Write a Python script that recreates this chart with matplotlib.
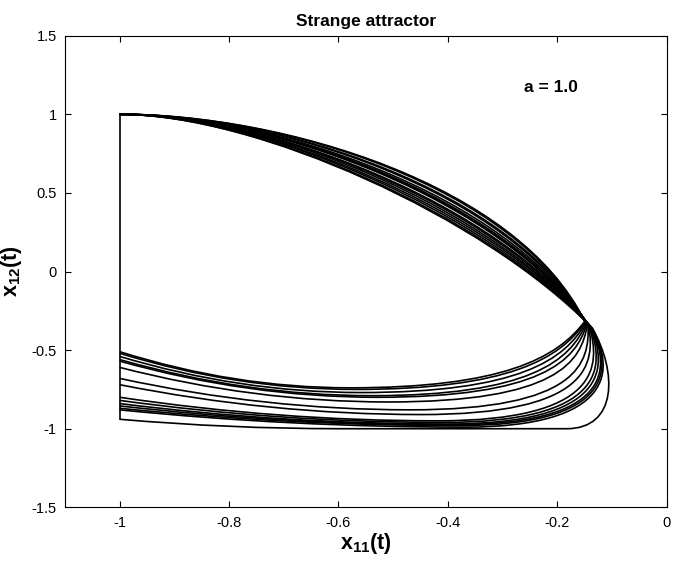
import matplotlib

matplotlib.use("Agg")
import matplotlib.pyplot as plt
from matplotlib.patches import PathPatch
from matplotlib.path import Path

plt.rcParams["font.family"] = ["Liberation Sans", "DejaVu Sans"]
plt.rcParams["axes.unicode_minus"] = False
plt.rcParams["mathtext.fontset"] = "custom"
plt.rcParams["mathtext.bf"] = "Liberation Sans:bold"
plt.rcParams["mathtext.rm"] = "Liberation Sans"

# where each loop re-enters the x11 = -1 wall
lower_left_y = [-0.51, -0.52, -0.54, -0.56, -0.57, -0.61, -0.68, -0.72,
                -0.80, -0.82, -0.84, -0.855, -0.87, -0.88, -0.94]
# lowest point of each lower branch
lower_min_x = [-0.58, -0.57, -0.56, -0.54, -0.53, -0.51, -0.47, -0.45,
               -0.42, -0.41, -0.40, -0.39, -0.38, -0.37, -0.60]
lower_min_y = [-0.74, -0.75, -0.77, -0.79, -0.80, -0.83, -0.88, -0.91,
               -0.95, -0.96, -0.97, -0.975, -0.98, -0.99, -1.0]
# end of the x12 = -1 saturation run (same as min x when not saturated)
flat_end_x = [-0.58, -0.57, -0.56, -0.54, -0.53, -0.51, -0.47, -0.45,
              -0.42, -0.41, -0.40, -0.39, -0.38, -0.37, -0.183]
# turn on the right: lower and upper control of the bend
turn_x = [-0.30, -0.29, -0.27, -0.25, -0.23, -0.20, -0.16, -0.14,
          -0.12, -0.112, -0.106, -0.10, -0.097, -0.094, -0.09]
turn_top_x = [-0.20, -0.195, -0.185, -0.175, -0.165, -0.155, -0.14, -0.13,
              -0.12, -0.112, -0.106, -0.10, -0.097, -0.094, -0.09]
turn_y = [-0.55, -0.555, -0.56, -0.565, -0.57, -0.575, -0.58, -0.59,
          -0.60, -0.61, -0.61, -0.62, -0.62, -0.62, -0.64]
# switching point where the upper branch starts
switch_x = [-0.150, -0.149, -0.148, -0.147, -0.146, -0.145, -0.144, -0.143,
            -0.142, -0.141, -0.140, -0.139, -0.138, -0.137, -0.136]
switch_y = [-0.318, -0.321, -0.324, -0.327, -0.330, -0.333, -0.336, -0.339,
            -0.342, -0.345, -0.348, -0.351, -0.354, -0.357, -0.360]
# bend of the upper branch
upper_bend_x = [-0.27, -0.275, -0.28, -0.285, -0.29, -0.295, -0.30, -0.30,
                -0.305, -0.31, -0.315, -0.32, -0.325, -0.33, -0.335]
upper_bend_y = [0.55, 0.54, 0.52, 0.51, 0.49, 0.47, 0.46, 0.45,
                0.43, 0.42, 0.40, 0.39, 0.37, 0.36, 0.35]
upper_top_x = [-0.70, -0.70, -0.71, -0.71, -0.72, -0.72, -0.72, -0.72,
               -0.73, -0.73, -0.73, -0.74, -0.74, -0.75, -0.75]

a_value = 1.0


def loop_path(i):
    y0 = lower_left_y[i]
    xb, yb = lower_min_x[i], lower_min_y[i]
    cx, cy = switch_x[i], switch_y[i]
    verts = [
        (-1.0, y0),
        ((-1.0 + xb) / 2, yb), (xb, yb),
        (flat_end_x[i], yb),
        (turn_x[i], yb), (turn_top_x[i], turn_y[i]), (cx, cy),
        (upper_bend_x[i], upper_bend_y[i]), (upper_top_x[i], 1.0), (-1.0, 1.0),
    ]
    codes = [
        Path.MOVETO,
        Path.CURVE3, Path.CURVE3,
        Path.LINETO,
        Path.CURVE4, Path.CURVE4, Path.CURVE4,
        Path.CURVE4, Path.CURVE4, Path.CURVE4,
    ]
    return Path(verts, codes)


fig = plt.figure(figsize=(6.81, 5.62), dpi=100)
ax = fig.add_axes([0.0954, 0.0973, 0.979 - 0.0954, 0.9365 - 0.0973])

for i in range(len(lower_left_y)):
    ax.add_patch(PathPatch(loop_path(i), fill=False, edgecolor="black", lw=1.2))
# jump back up along the x11 = -1 wall
ax.plot([-1.0, -1.0], [min(lower_left_y), 1.0], color="black", lw=1.2)

ax.set_xlim(-1.1, 0)
ax.set_ylim(-1.5, 1.5)
ax.set_xticks([-1, -0.8, -0.6, -0.4, -0.2, 0])
ax.set_xticklabels(["-1", "-0.8", "-0.6", "-0.4", "-0.2", "0"])
ax.set_yticks([-1.5, -1, -0.5, 0, 0.5, 1, 1.5])
ax.set_yticklabels(["-1.5", "-1", "-0.5", "0", "0.5", "1", "1.5"])
ax.tick_params(direction="in", length=4, width=0.8, top=True, right=True,
               labelsize=10.5, pad=6)
for spine in ax.spines.values():
    spine.set_linewidth(0.8)

ax.set_title("Strange attractor", fontsize=12.5, fontweight="bold", pad=7)
ax.set_xlabel(r"$\mathbf{x_{11}(t)}$", fontsize=15.5, labelpad=1)
ax.set_ylabel(r"$\mathbf{x_{12}(t)}$", fontsize=15.5, labelpad=5)
ax.text(-0.163, 1.17, f"a = {a_value:.1f}", ha="right", va="center",
        fontsize=12.5, fontweight="bold")

fig.savefig("out.png", dpi=100)
